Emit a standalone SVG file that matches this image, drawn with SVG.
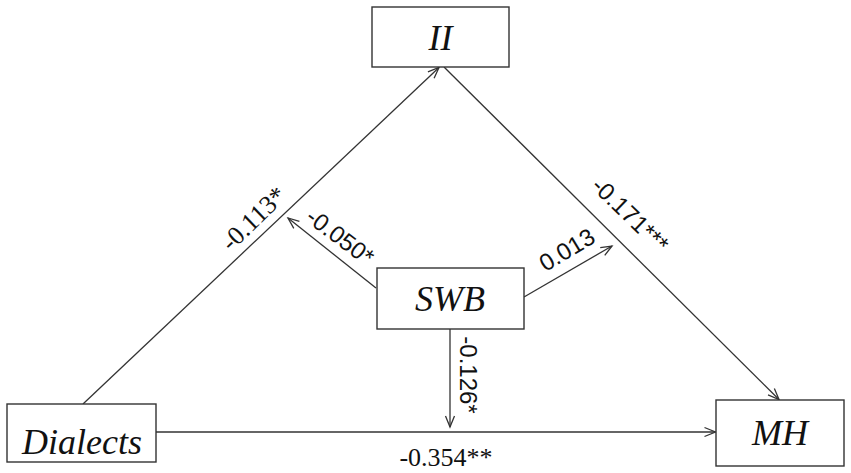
<svg xmlns="http://www.w3.org/2000/svg" width="851" height="473" viewBox="0 0 851 473">
<style>
.box{fill:#fff;stroke:#333;stroke-width:1.4}
.lbl{font-family:'Liberation Serif','DejaVu Serif',serif;font-style:italic;font-size:36px;fill:#111;text-anchor:middle}
.num{font-family:'Liberation Sans',Arial,sans-serif;font-size:24px;fill:#111;text-anchor:middle}
.numt{font-family:'Liberation Serif','DejaVu Serif',serif;font-size:26px;fill:#111;text-anchor:middle}
.edge{stroke:#333;stroke-width:1.3;fill:none}
</style>
<defs>
<marker id="ah" viewBox="-12 -6 14 12" refX="0" refY="0" markerWidth="14" markerHeight="12" markerUnits="userSpaceOnUse" orient="auto">
<path d="M-11,-4.5 L0,0 L-11,4.5" fill="none" stroke="#333" stroke-width="1.3"/>
</marker>
</defs>
<rect width="851" height="473" fill="#fff"/>
<g id="connectors">
<line class="edge" x1="83" y1="404" x2="439" y2="67.5" marker-end="url(#ah)"/>
<line class="edge" x1="444" y1="67" x2="779" y2="399.5" marker-end="url(#ah)"/>
<line class="edge" x1="156" y1="432" x2="715.5" y2="432" marker-end="url(#ah)"/>
<line class="edge" x1="450" y1="329" x2="450" y2="427" marker-end="url(#ah)"/>
<line class="edge" x1="376" y1="288" x2="288" y2="218" marker-end="url(#ah)"/>
<line class="edge" x1="524" y1="297" x2="612" y2="246" marker-end="url(#ah)"/>
</g>
<g id="labels">
<text class="numt" font-family="Liberation Serif, serif" transform="translate(254,219) rotate(-44)" y="8">-0.113*</text>
<text class="num" transform="translate(340,237) rotate(37)" y="8">-0.050*</text>
<text class="num" transform="translate(567,250) rotate(-31)" y="8">0.013</text>
<text class="num" transform="translate(630,215) rotate(44)" y="8">-0.171***</text>
<text class="num" transform="translate(468,375) rotate(90)" y="8">-0.126*</text>
<text class="numt" font-family="Liberation Serif, serif" x="446" y="466">-0.354**</text>
</g>
<g id="node-II">
<rect class="box" x="372" y="7" width="137" height="60"/>
<text class="lbl" font-family="Liberation Serif, serif" x="440.5" y="50">II</text>
</g>
<g id="node-SWB">
<rect class="box" x="377" y="268" width="147" height="61"/>
<text class="lbl" font-family="Liberation Serif, serif" x="450" y="311">SWB</text>
</g>
<g id="node-Dialects">
<rect class="box" x="7" y="404" width="149" height="58"/>
<text class="lbl" font-family="Liberation Serif, serif" x="82" y="454">Dialects</text>
</g>
<g id="node-MH">
<rect class="box" x="716" y="400" width="128" height="66"/>
<text class="lbl" font-family="Liberation Serif, serif" x="780" y="445">MH</text>
</g>
</svg>
